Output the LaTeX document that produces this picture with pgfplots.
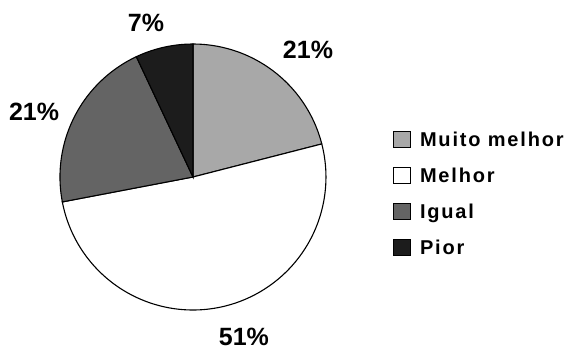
\documentclass[border=0pt]{standalone}
\usepackage{fontspec}
\setmainfont{Liberation Sans}
\newfontfamily\legfont[LetterSpace=9]{Liberation Sans}
\usepackage{pgfplots}
\pgfplotsset{compat=1.18}
\definecolor{cMuito}{HTML}{A8A8A8}
\definecolor{cMelhor}{HTML}{FFFFFF}
\definecolor{cIgual}{HTML}{646464}
\definecolor{cPior}{HTML}{1C1C1C}
% shares in percent
\def\vA{21}\def\vB{51}\def\vC{21}\def\vD{7}
\pgfmathsetmacro{\aA}{90}
\pgfmathsetmacro{\aB}{\aA-3.6*\vA}
\pgfmathsetmacro{\aC}{\aB-3.6*\vB}
\pgfmathsetmacro{\aD}{\aC-3.6*\vC}
\pgfmathsetmacro{\aE}{\aD-3.6*\vD}
\begin{document}
\begin{tikzpicture}
\begin{axis}[
  scale only axis, x=133pt, y=133pt,
  xmin=-1.451, xmax=2.850, ymin=-1.301, ymax=1.331,
  hide axis, clip=false,
  legend image code/.code={\draw[#1,draw=black,line width=1pt] (0pt,-8pt) rectangle (17pt,8pt);},
  legend cell align=left,
  legend style={at={(axis cs:1.503,0.347)}, anchor=north west, draw=none, fill=none,
    inner sep=0pt, row sep=19pt, column sep=9pt,
    font=\legfont\bfseries\fontsize{20}{22}\selectfont,
    nodes={inner sep=0pt, text height=14.4pt, text depth=0pt}},
]
\path (rel axis cs:0,0) rectangle (rel axis cs:1,1);
\addplot[fill=cMuito, draw=black, line width=1.1pt, domain=\aB:\aA, samples=80] ({cos(x)},{sin(x)}) -- (axis cs:0,0) -- cycle;
\addlegendentry{Muito melhor}
\addplot[fill=cMelhor, draw=black, line width=1.1pt, domain=\aC:\aB, samples=160] ({cos(x)},{sin(x)}) -- (axis cs:0,0) -- cycle;
\addlegendentry{Melhor}
\addplot[fill=cIgual, draw=black, line width=1.1pt, domain=\aD:\aC, samples=80] ({cos(x)},{sin(x)}) -- (axis cs:0,0) -- cycle;
\addlegendentry{Igual}
\addplot[fill=cPior, draw=black, line width=1.1pt, domain=\aE:\aD, samples=40] ({cos(x)},{sin(x)}) -- (axis cs:0,0) -- cycle;
\addlegendentry{Pior}
\begin{scope}[font=\bfseries\fontsize{25}{28}\selectfont, inner sep=0pt]
\node at (axis cs:0.865,0.955) {21\%};
\node at (axis cs:-0.353,1.158) {7\%};
\node at (axis cs:-1.195,0.489) {21\%};
\node at (axis cs:0.383,-1.203) {51\%};
\end{scope}
\end{axis}
\end{tikzpicture}
\end{document}
